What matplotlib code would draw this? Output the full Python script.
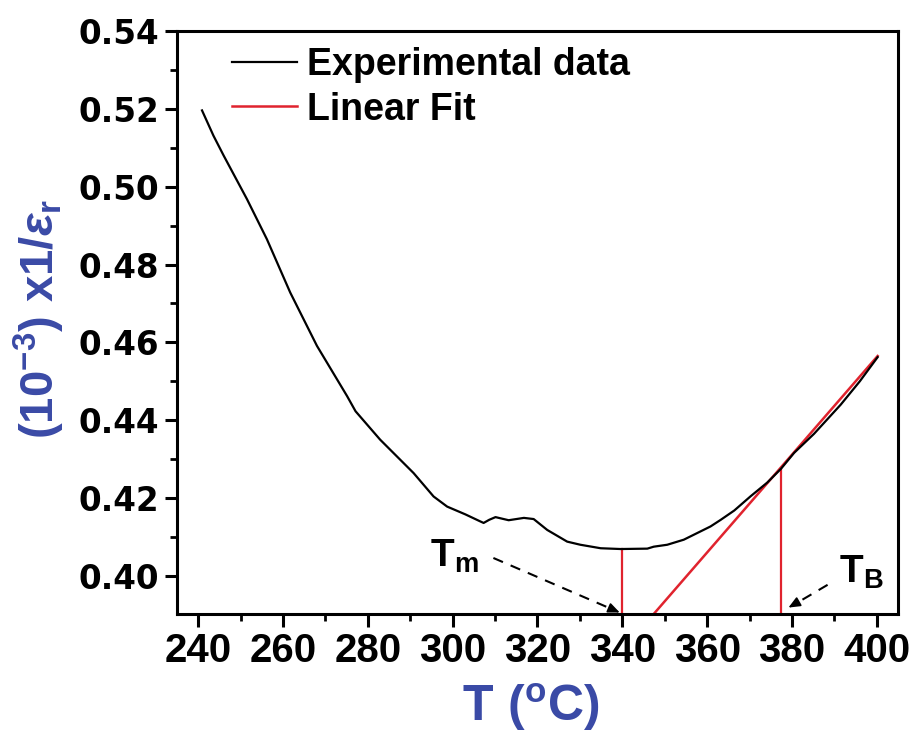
import numpy as np
import matplotlib
matplotlib.use("Agg")
import matplotlib.pyplot as plt
from matplotlib.ticker import MultipleLocator, FormatStrFormatter

# Experimental curve
temp = [240.9, 243.6, 246.0, 251.5, 256.2, 261.7, 268.0, 275.1, 277.1, 282.9,
        290.8, 295.5, 298.7, 303.0, 306.5, 307.3, 308.6, 310.1, 313.2, 316.8,
        319.1, 322.3, 327.0, 330.1, 334.9, 339.6, 345.9, 347.4, 350.6, 354.5,
        360.8, 363.2, 366.4, 370.3, 374.2, 377.4, 380.5, 385.2, 391.5, 396.0,
        400.2]
inv_eps = [0.5196, 0.5131, 0.5080, 0.4968, 0.4865, 0.4728, 0.4591, 0.4462, 0.4423, 0.4350,
           0.4264, 0.4204, 0.4178, 0.4158, 0.4140, 0.4136, 0.4144, 0.4151, 0.4143, 0.4149,
           0.4146, 0.4118, 0.4088, 0.4080, 0.4071, 0.4069, 0.4070, 0.4075, 0.4080, 0.4093,
           0.4127, 0.4144, 0.4168, 0.4205, 0.4240, 0.4275, 0.4316, 0.4365, 0.4440, 0.4500,
           0.4562]

# linear fit segment and marker lines
fit_T = [347.4, 400.2]
fit_y = [0.3902, 0.4565]
Tm = 340.0
Tm_top = 0.4069
TB = 377.5
TB_top = 0.4275

blue = "#3a4aa6"
red = "#e0232e"

plt.rcParams["mathtext.fontset"] = "custom"
plt.rcParams["mathtext.rm"] = "Liberation Sans:bold"
plt.rcParams["mathtext.bf"] = "Liberation Sans:bold"
plt.rcParams["mathtext.it"] = "Liberation Sans:bold:italic"
plt.rcParams["mathtext.sf"] = "Liberation Sans:bold"

fig = plt.figure(figsize=(9.1, 7.35), dpi=100)
ax = fig.add_axes([0.1945, 0.1646, 0.7923, 0.7932])

ax.plot(temp, inv_eps, color="black", lw=1.6, label="Experimental data", zorder=3)
ax.plot(fit_T, fit_y, color=red, lw=1.8, label="Linear Fit", zorder=2)
ax.plot([Tm, Tm], [0.3902, Tm_top], color=red, lw=1.6, zorder=2)
ax.plot([TB, TB], [0.3902, TB_top], color=red, lw=1.6, zorder=2)

# dashed pointers to Tm and TB
dash = dict(color="black", lw=1.5, ls=(0, (5, 4)))
ax.plot([309.6, 338.5], [0.4046, 0.3910], **dash)
ax.annotate("", xy=(340.0, 0.3903), xytext=(337.0, 0.3917),
            arrowprops=dict(arrowstyle="-|>,head_length=0.7,head_width=0.3",
                            color="black", lw=1.2))
ax.plot([388.4, 380.0], [0.3977, 0.3923], **dash)
ax.annotate("", xy=(378.6, 0.3915), xytext=(381.5, 0.3933),
            arrowprops=dict(arrowstyle="-|>,head_length=0.7,head_width=0.3",
                            color="black", lw=1.2))

ax.text(294.7, 0.4023, r"$\mathsf{T}_{\mathsf{m}}$", fontsize=28, ha="left", va="baseline")
ax.text(391.0, 0.3982, r"$\mathsf{T}_{\mathsf{B}}$", fontsize=28, ha="left", va="baseline")

ax.set_xlim(235, 405)
ax.set_ylim(0.3902, 0.54)
ax.xaxis.set_major_locator(MultipleLocator(20))
ax.xaxis.set_minor_locator(MultipleLocator(10))
ax.yaxis.set_major_locator(MultipleLocator(0.02))
ax.yaxis.set_minor_locator(MultipleLocator(0.01))
ax.yaxis.set_major_formatter(FormatStrFormatter("%.2f"))

for s in ax.spines.values():
    s.set_linewidth(2.2)
ax.tick_params(which="major", direction="out", length=9, width=2.2, pad=4)
ax.tick_params(which="minor", direction="out", length=5, width=2.0)
for lab in ax.get_xticklabels():
    lab.set_fontfamily("Liberation Sans")
    lab.set_fontweight("bold")
    lab.set_fontsize(29)
for lab in ax.get_yticklabels():
    lab.set_fontfamily("DejaVu Sans")
    lab.set_fontweight("bold")
    lab.set_fontsize(23.5)

ax.set_xlabel(r"$\mathbf{T\ (^{o}C)}$", fontsize=36, color=blue)
ax.xaxis.set_label_coords(0.49, -0.115)
ax.set_ylabel(r"$\mathbf{(10^{-3})\ x1/}\mathit{ε}_{\mathbf{r}}$", fontsize=34,
              color=blue)
ax.yaxis.set_label_coords(-0.153, 0.506)

leg = ax.legend(loc="upper left", bbox_to_anchor=(0.076, 0.972), frameon=False,
                handlelength=1.75, handletextpad=0.25, labelspacing=0.22,
                borderpad=0, borderaxespad=0,
                prop={"family": "Liberation Sans", "weight": "bold", "size": 27})

fig.savefig("out.png", dpi=100)
